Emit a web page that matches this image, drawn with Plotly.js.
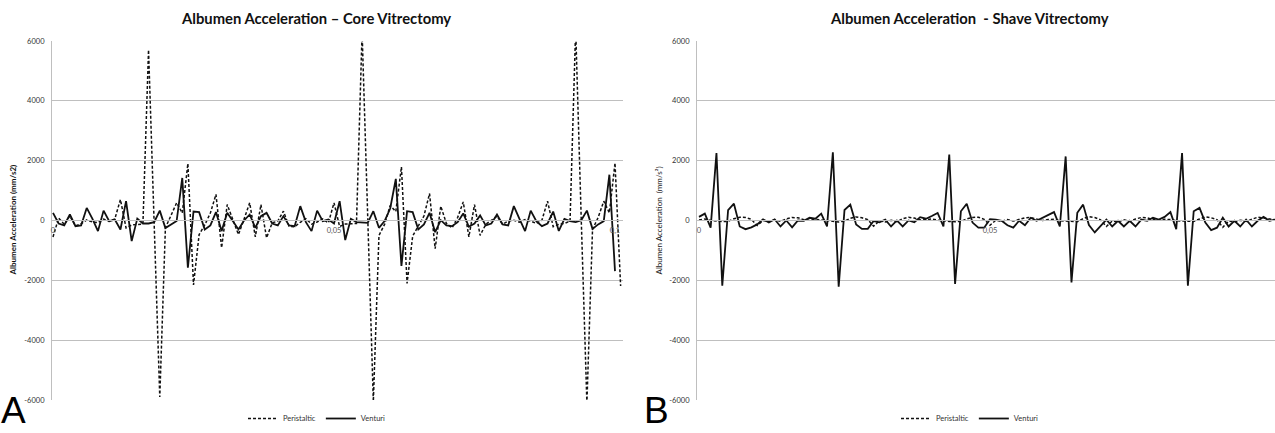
<!DOCTYPE html>
<html>
<head>
<meta charset="utf-8">
<script src="https://cdn.plot.ly/plotly-3.0.1.min.js"></script>
<style>html,body{margin:0;padding:0;background:#fff;}#chart{width:1275px;height:433px;}</style>
</head>
<body>
<div id="chart"></div>
<script>
// ---- data ----
const sampleStart = 0;          // s
const sampleStep = 0.001;       // s between samples

const xTickVals = [0, 0.05, 0.1];
const xTickText = ['0', '0,05', '0,1'];
const yTickVals = [-6000, -4000, -2000, 0, 2000, 4000, 6000];
const yTickText = ['-6000', '-4000', '-2000', '0', '2000', '4000', '6000'];

const seriesNames = ['Peristaltic', 'Venturi'];

// Panel A – Core vitrectomy (mm/s2)
const corePeristaltic = [
  -550, 80, -130, 150, -180, -110, 20, -50, -70, 50,
  -30, 50, 700, -250, -150, -130, -120, 5700, 0, -5900,
  -250, 150, 590, 250, 1900, -2150, -470, -150, 250, 870,
  -910, 530, 50, -470, 50, 590, -545, 530, -580, -80,
  -20, 310, -190, -210, -60, 60, -120, -50, 50, -80,
  590, -200, -120, -110, -100, 6300, 0, -6050, -500, -130,
  500, 300, 1790, -2100, -520, -200, 150, 900, -945, 480,
  -100, -250, 100, 620, -545, 530, -500, -130, 10, 145,
  -130, -20, 10, -55, 30, -20, -100, 10, 645, -210,
  -130, -100, -20, 6400, 0, -6100, -300, 100, 645, 255,
  1920, -2190
];
const coreVenturi = [
  255, -100, -165, 200, -190, -165, 420, 60, -355, 330,
  -20, 30, -300, 645, -690, 65, -100, -100, -55, 330,
  -255, -130, -20, 1420, -1580, 300, 280, -300, -165, 280,
  -355, 255, -20, -300, 0, 200, -245, 145, 255, -100,
  -165, 145, -165, -190, 480, -55, -355, 330, -20, 30,
  -100, 645, -655, 55, -55, -80, -80, 310, -245, -20,
  400, 1390, -1520, 310, 280, -300, -130, 255, -390, 10,
  -165, -190, -55, 235, -210, -100, 170, -165, -100, 200,
  -130, -165, 480, 55, -355, 330, -20, -190, -100, 300,
  -350, 55, -20, -55, 10, 330, -280, -130, -20, 1530,
  -1690
];

// Panel B – Shave vitrectomy (mm/s²)
const shavePeristaltic = [
  20, 50, 0, -20, -40, -30, 60, 110, 100, 40,
  -170, 0, -40, 20, -30, 50, 100, 90, 30, 10,
  40, 20, -10, -30, -50, -20, 70, 120, 90, 30,
  -190, -10, -50, 10, -40, 60, 110, 80, 20, 30,
  50, 10, -20, -30, -40, -30, 50, 100, 110, 40,
  -160, 10, -30, 30, -20, 40, 90, 100, 40, 0,
  30, 40, -10, -20, -50, -40, 60, 130, 100, 20,
  -200, -20, -40, 20, -30, 50, 100, 90, 30, 20,
  40, 30, -10, -20, -40, -30, 50, 120, 90, 30,
  -230, -20, -40, 10, -30, 50, 110, 80, 40, 20
];
const shaveVenturi = [
  120, 230, -240, 2250, -2180, 350, 560, -200, -290, -230,
  -130, 40, -70, 40, -200, 0, -230, 0, -10, 90,
  60, 230, -200, 2280, -2210, 350, 530, -130, -280, -280,
  -20, -60, 30, -200, 0, -200, 0, -60, 110, 60,
  150, 250, -200, 2200, -2120, 310, 560, -70, -240, -240,
  40, 30, -10, -160, -240, -10, -160, 90, -10, 90,
  170, 280, -200, 2140, -2070, 260, 530, -150, -400, -200,
  30, -200, -10, -200, -10, -200, 30, -10, 90, 30,
  120, 280, -290, 2250, -2180, 310, 420, -70, -320, -240,
  90, -200, -10, -200, 30, -200, -10, 120, -10, 30
];

// ---- styling ----
const W = 1275, H = 433;
const px = v => v / W;          // paper x from pixel
const py = v => 1 - v / H;      // paper y from pixel
const gridCol = '#bfbfbf';
const txtCol = '#333333';
const FONT = 'Lato, Open Sans, sans-serif';
const tickFont = {family: FONT, size: 7.5, color: txtCol};
const dashStyle = '3px,2px';

function lineTrace(y, name, xa, ya, leg, dashed) {
  return {
    type: 'scatter', mode: 'lines', name: name, y: y,
    x0: sampleStart, dx: sampleStep,
    xaxis: xa, yaxis: ya, legend: leg,
    line: {color: '#111', width: dashed ? 1.5 : 1.8, dash: dashed ? dashStyle : 'solid'},
    hoverinfo: 'skip'
  };
}

const data = [
  lineTrace(corePeristaltic, seriesNames[0], 'x', 'y', 'legend', true),
  lineTrace(coreVenturi, seriesNames[1], 'x', 'y', 'legend', false),
  lineTrace(shavePeristaltic, seriesNames[0], 'x2', 'y2', 'legend2', true),
  lineTrace(shaveVenturi, seriesNames[1], 'x2', 'y2', 'legend2', false)
];

function yAxis(anchor) {
  return {
    anchor: anchor,
    domain: [py(401), py(41)], range: [-6000, 6000],
    tickvals: yTickVals, ticktext: yTickText, tickfont: Object.assign({}, tickFont),
    showgrid: true, gridcolor: gridCol, gridwidth: 1,
    showline: true, linecolor: gridCol, linewidth: 1,
    zeroline: false, ticks: '', ticklabelstandoff: 5, fixedrange: true
  };
}
function xAxis(domain, range) {
  return {
    domain: domain, range: range, anchor: 'free',
    position: py(221),
    tickvals: xTickVals, ticktext: xTickText,
    tickfont: {family: FONT, size: 7.5, color: '#555'},
    showgrid: false, zeroline: false, showline: true, linecolor: gridCol,
    ticks: '', ticklabelstandoff: 3, fixedrange: true
  };
}

const titleFont = {family: FONT, size: 14.8, color: '#111', weight: 700};
const legFont = {family: FONT, size: 7.5, color: txtCol};
const letterFont = {family: 'Liberation Sans, Arial, sans-serif', size: 37, color: '#000'};

const layout = {
  width: W, height: H,
  margin: {l: 0, r: 0, t: 0, b: 0},
  paper_bgcolor: '#fff', plot_bgcolor: '#fff',
  xaxis: xAxis([px(52), px(623)], [-1/5620, 570/5620]),
  yaxis: yAxis('x'),
  xaxis2: xAxis([px(697), 1], [-2/5820, 576/5820]),
  yaxis2: yAxis('x2'),
  showlegend: true,
  legend: {orientation: 'h', x: px(317), xanchor: 'center', y: py(419), yanchor: 'middle',
           font: legFont, bgcolor: 'rgba(0,0,0,0)', itemwidth: 30, tracegroupgap: 0},
  legend2: {orientation: 'h', x: px(970), xanchor: 'center', y: py(419), yanchor: 'middle',
            font: legFont, bgcolor: 'rgba(0,0,0,0)', itemwidth: 30, tracegroupgap: 0},
  annotations: [
    {text: 'Albumen Acceleration – Core Vitrectomy', xref: 'paper', yref: 'paper',
     x: px(316), y: py(18), xanchor: 'center', yanchor: 'middle', showarrow: false, font: titleFont},
    {text: 'Albumen Acceleration\u00a0 - Shave Vitrectomy', xref: 'paper', yref: 'paper',
     x: px(969), y: py(18), xanchor: 'center', yanchor: 'middle', showarrow: false, font: titleFont},
    {text: 'Albumen Acceleration (mm/s2)', xref: 'paper', yref: 'paper', textangle: -90,
     x: px(13), y: py(221), xanchor: 'center', yanchor: 'middle', showarrow: false,
     font: {family: FONT, size: 8, color: '#111', weight: 700}},
    {text: 'Albumen Acceleration\u00a0 (mm/s²)', xref: 'paper', yref: 'paper', textangle: -90,
     x: px(659), y: py(221), xanchor: 'center', yanchor: 'middle', showarrow: false,
     font: {family: FONT, size: 8, color: '#222', weight: 400}},
    {text: 'A', xref: 'paper', yref: 'paper', x: px(13), y: 0, xanchor: 'center', yanchor: 'bottom',
     borderpad: 0, showarrow: false, font: letterFont},
    {text: 'B', xref: 'paper', yref: 'paper', x: px(656), y: 0, xanchor: 'center', yanchor: 'bottom',
     borderpad: 0, showarrow: false, font: letterFont}
  ]
};

Plotly.newPlot('chart', data, layout, {staticPlot: true, displayModeBar: false});
</script>
</body>
</html>
